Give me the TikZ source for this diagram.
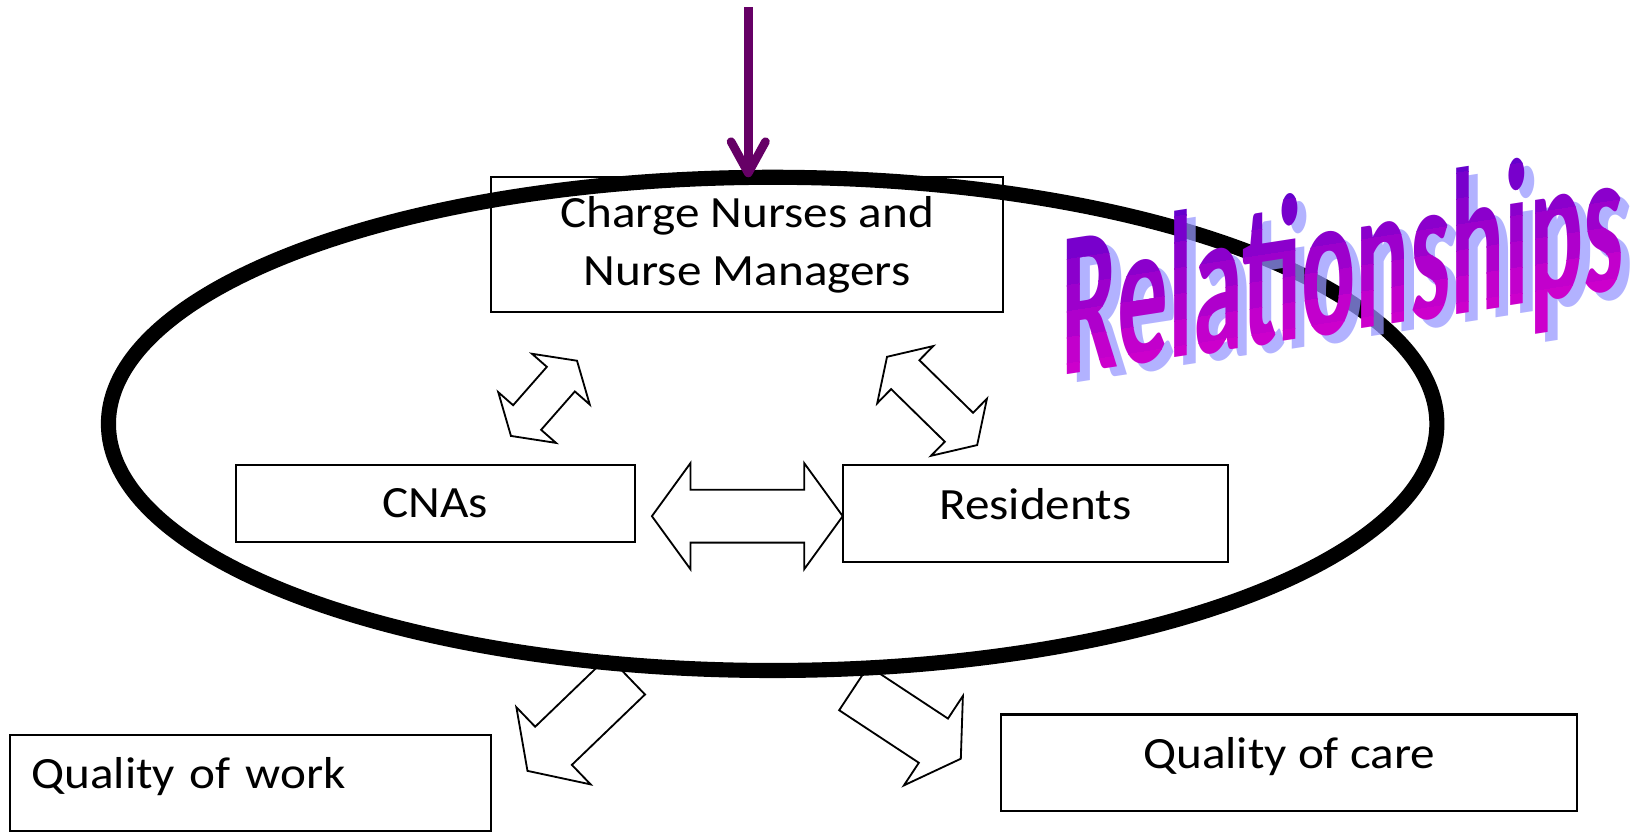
\documentclass[tikz,border=0pt]{standalone}
\usepackage{fontspec}
\setmainfont{Carlito}[FakeStretch=1.1]
\usepackage{xcolor}
\usepackage{tikz}
\usetikzlibrary{calc}
\usetikzlibrary{arrows.meta}
\usetikzlibrary{shapes}
\usetikzlibrary{shapes.arrows}
\usetikzlibrary{positioning}
\usetikzlibrary{shapes.geometric}

\definecolor{linkpurple}{RGB}{102,0,102}
\definecolor{wordtop}{RGB}{102,0,204}
\definecolor{wordbot}{RGB}{204,0,204}
\definecolor{wordshade}{RGB}{150,150,255}

\tikzset{
  box/.style={rectangle, draw=black, line width=0.55pt, fill=white, font=\fontsize{12.2pt}{15.8pt}\selectfont},
  topped/.style={text height=9pt, text depth=6pt},
  twoway/.style={double arrow, draw=black, fill=white, line width=0.5pt},
  oneway/.style={single arrow, draw=black, fill=white, line width=0.5pt},
  word/.style={inner sep=0pt, anchor=base west, xscale=0.441, transform shape, font=\fontsize{56.9pt}{60pt}\selectfont\bfseries}
}

\begin{document}
\begin{tikzpicture}[x=0.1mm, y=-0.1mm]
\useasboundingbox (0,0) rectangle (1568,798);

\node [box, minimum width=49.1mm, minimum height=12.9mm, align=center] (CN) at (716.5,234.5) {Charge Nurses and\\Nurse Managers};
\node [box, minimum width=38.3mm, minimum height=7.4mm] (CNA) at (417.5,483) {CNAs};
\node [box, topped, minimum width=36.9mm, minimum height=9.3mm] (RES) at (993,492.5) {Residents};
\node [box, topped, text width=42.1mm, inner xsep=2mm, minimum height=9.2mm, align=left] (QW) at (240.5,751) {Quality of work};
\node [box, topped, minimum width=55.3mm, minimum height=9.3mm] (QC) at (1236.3,731.7) {Quality of care};

% block arrows
\node [twoway, rotate=48.7, minimum height=9.6mm, inner sep=1.7mm, double arrow head extend=1.9mm, double arrow tip angle=115] (CNAtoCN) at (521.7,382) {};
\node [twoway, rotate=-44.4, minimum height=12.1mm, inner sep=1.85mm, double arrow head extend=1.9mm, double arrow tip angle=115] (CNtoRES) at (893.9,384.5) {};
\node [twoway, minimum height=18.3mm, inner sep=2.45mm, double arrow head extend=2.55mm, double arrow tip angle=108] (CNAtoRES) at (716.7,495) {};
\node [oneway, rotate=223.9, minimum height=13.2mm, inner sep=2.45mm, single arrow head extend=2.6mm, single arrow tip angle=112, anchor=tip] (toQW) at (505.1,740) {};
\node [oneway, rotate=-33.4, minimum height=12.3mm, inner sep=2.45mm, single arrow head extend=2.6mm, single arrow tip angle=117, anchor=tip] (toQC) at (922.3,728.2) {};

\node [ellipse, draw=black, line width=1.45mm, minimum width=127.4mm, minimum height=47.3mm, inner sep=0pt, outer sep=0pt] (loop) at (741,406.5) {};

\coordinate (top) at (717.6,7);
\draw [line width=0.83mm, draw=linkpurple, -{Straight Barb[length=3mm, width=3.3mm, round]}] (top) -- (top |- loop.north);

% word art
\begin{scope}[shift={(1018,360)}, yslant=0.155]
\node [word, text=wordshade, text opacity=0.73] (relShade) at (9,9) {Relationships};
\foreach \k [evaluate=\k as \p using {int(min(100,18*\k))}] in {0,...,6} {
  \begin{scope}
  \clip (-20,{25*\k-161}) rectangle (560,{\k==6 ? 70 : 25*\k-135});
  \node [word, text=wordbot!\p!wordtop] (rel\k) at (0,0) {Relationships};
  \end{scope}
}
\end{scope}
\end{tikzpicture}
\end{document}
